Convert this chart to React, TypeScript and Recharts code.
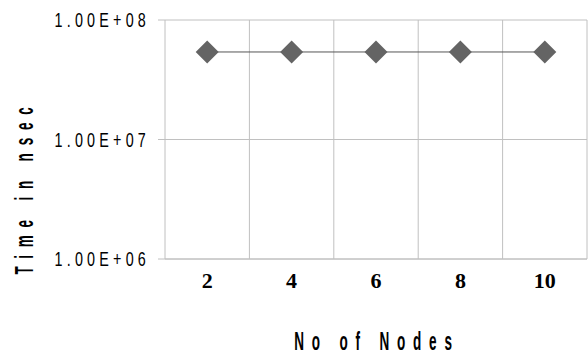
import React from "react";
import {
  LineChart,
  Line,
  XAxis,
  YAxis,
  CartesianGrid,
  ReferenceLine,
  Label,
} from "recharts";

const nodes = [2, 4, 6, 8, 10];
const timeNsec = [5.4e7, 5.4e7, 5.4e7, 5.4e7, 5.4e7];
const yTicks = [1e6, 1e7, 1e8];
const bandEdges = [3, 5, 7, 9, 11];

const data = nodes.map((n, i) => ({ nodes: n, time: timeNsec[i] }));

const sans = "'Liberation Sans', Arial, sans-serif";
const gridColor = "#c0c0c0";

const fmtSci = (v: number) => {
  const exp = Math.round(Math.log10(v));
  return `1.00E+${String(exp).padStart(2, "0")}`;
};

// narrow, spaced text (arial narrow look) - squeeze horizontally
const Squeezed = ({ x, y, angle = 0, sx, anchor = "middle", style, children }: any) => (
  <text
    x={0}
    y={0}
    textAnchor={anchor}
    transform={`translate(${x},${y}) rotate(${angle}) scale(${sx},1)`}
    style={style}
  >
    {children}
  </text>
);

const YTick = (props: any) => {
  const { x, y, payload } = props;
  return (
    <Squeezed
      x={x + 4}
      y={y + 7}
      sx={0.7}
      anchor="end"
      style={{ fontFamily: sans, fontSize: 20.5, letterSpacing: 6, fill: "#000" }}
    >
      {fmtSci(payload.value)}
    </Squeezed>
  );
};

// diamond marker like the old excel charts
const Diamond = (props: any) => {
  const { cx, cy } = props;
  if (cx == null || cy == null) return null;
  const r = 11.5;
  return (
    <path
      d={`M${cx},${cy - r} L${cx + r},${cy} L${cx},${cy + r} L${cx - r},${cy} Z`}
      fill="#646464"
    />
  );
};

const titleStyle = { fontFamily: sans, fontWeight: "bold", fontSize: 26, letterSpacing: 15, fill: "#000" };

const App = () => {
  return (
    <div style={{ position: "absolute", left: 0, top: 0, width: 588, height: 356, background: "#fff" }}>
      <LineChart
        width={588}
        height={356}
        data={data}
        margin={{ top: 20, right: 1, bottom: 0, left: 0 }}
      >
        <CartesianGrid stroke={gridColor} vertical={false} />
        {bandEdges.map((x) => (
          <ReferenceLine key={x} x={x} stroke={gridColor} />
        ))}
        <XAxis
          dataKey="nodes"
          type="number"
          domain={[1, 11]}
          ticks={nodes}
          tickLine={false}
          axisLine={{ stroke: gridColor }}
          height={97}
          tick={{ fontFamily: "'Liberation Serif', 'Times New Roman', serif", fontWeight: "bold", fontSize: 22, fill: "#000" }}
          tickMargin={7}
        >
          <Label
            content={() => (
              <Squeezed x={377} y={350} sx={0.52} style={titleStyle}>
                No of Nodes
              </Squeezed>
            )}
          />
        </XAxis>
        <YAxis
          scale="log"
          domain={[1e6, 1e8]}
          ticks={yTicks}
          width={165}
          allowDataOverflow
          axisLine={{ stroke: gridColor }}
          tickLine={{ stroke: gridColor }}
          tickSize={7}
          tickMargin={12}
          tick={<YTick />}
        >
          <Label
            content={() => (
              <Squeezed x={33} y={187} angle={-90} sx={0.52} style={titleStyle}>
                Time in nsec
              </Squeezed>
            )}
          />
        </YAxis>
        <Line
          dataKey="time"
          stroke="#555"
          strokeWidth={1}
          dot={<Diamond />}
          activeDot={false}
          isAnimationActive={false}
        />
      </LineChart>
    </div>
  );
};

export default App;
